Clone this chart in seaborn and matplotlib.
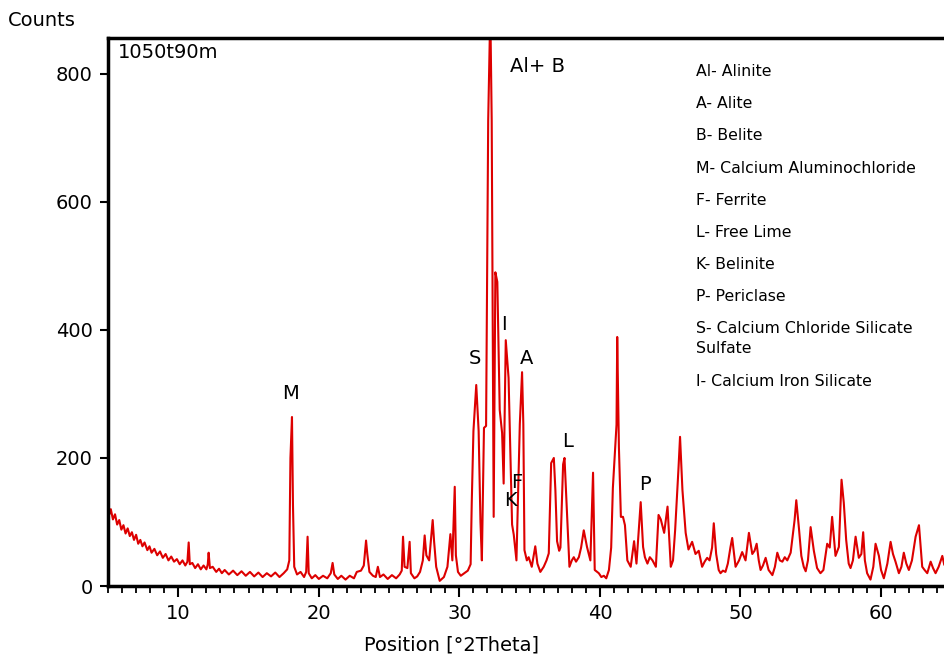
import pandas as pd
import matplotlib
matplotlib.use('Agg')
import matplotlib.pyplot as plt
import seaborn as sns
from matplotlib.ticker import MultipleLocator

# XRD pattern (position in deg 2theta, counts)
two_theta = [
    5.0, 5.1, 5.2, 5.35, 5.5, 5.65, 5.8, 5.95, 6.1, 6.25, 6.4, 6.55, 6.7, 6.85,
    7.0, 7.15, 7.3, 7.45, 7.6, 7.8, 7.95, 8.1, 8.3, 8.5, 8.7, 8.9, 9.1, 9.3,
    9.5, 9.7, 9.9, 10.1, 10.3, 10.5, 10.65, 10.74, 10.82, 11.0, 11.2, 11.4,
    11.6, 11.8, 12.0, 12.1, 12.16, 12.25, 12.45, 12.7, 12.9, 13.1, 13.3, 13.6,
    13.9, 14.2, 14.5, 14.8, 15.1, 15.4, 15.7, 16.0, 16.3, 16.6, 16.9, 17.2,
    17.5, 17.75, 17.9, 17.98, 18.09, 18.16, 18.25, 18.45, 18.7, 18.95, 19.1,
    19.2, 19.28, 19.5, 19.75, 20.0, 20.3, 20.6, 20.85, 20.98, 21.1, 21.35,
    21.6, 21.9, 22.2, 22.5, 22.7, 23.0, 23.2, 23.36, 23.45, 23.6, 23.85,
    24.05, 24.2, 24.35, 24.6, 24.9, 25.2, 25.5, 25.75, 25.9, 25.99, 26.1,
    26.3, 26.46, 26.55, 26.8, 27.0, 27.2, 27.4, 27.53, 27.65, 27.85, 28.1,
    28.2, 28.35, 28.6, 28.9, 29.15, 29.36, 29.5, 29.67, 29.75, 29.9, 30.1,
    30.35, 30.6, 30.8, 30.88, 31.0, 31.2, 31.37, 31.5, 31.6, 31.75, 31.9,
    32.05, 32.2, 32.3, 32.44, 32.56, 32.7, 32.87, 33.04, 33.15, 33.3, 33.5,
    33.63, 33.75, 33.87, 34.06, 34.3, 34.46, 34.55, 34.63, 34.8, 34.93, 35.15,
    35.4, 35.55, 35.76, 36.0, 36.2, 36.36, 36.53, 36.72, 36.83, 36.95, 37.1,
    37.19, 37.38, 37.48, 37.66, 37.83, 38.0, 38.14, 38.3, 38.5, 38.66, 38.85,
    39.08, 39.32, 39.51, 39.63, 39.92, 40.1, 40.28, 40.45, 40.64, 40.8, 40.92,
    41.18, 41.23, 41.35, 41.49, 41.64, 41.78, 41.95, 42.19, 42.43, 42.6, 42.9,
    43.07, 43.2, 43.38, 43.55, 43.74, 43.98, 44.17, 44.33, 44.57, 44.81, 45.04,
    45.2, 45.35, 45.59, 45.7, 45.87, 46.1, 46.3, 46.56, 46.8, 47.03, 47.27,
    47.45, 47.63, 47.8, 47.98, 48.1, 48.27, 48.45, 48.58, 48.75, 48.93, 49.1,
    49.29, 49.41, 49.65, 49.9, 50.12, 50.36, 50.6, 50.84, 51.0, 51.15, 51.3,
    51.43, 51.6, 51.79, 52.0, 52.27, 52.45, 52.62, 52.8, 52.98, 53.15, 53.33,
    53.57, 53.85, 53.97, 54.16, 54.33, 54.5, 54.64, 54.8, 54.99, 55.22, 55.45,
    55.69, 55.9, 56.17, 56.35, 56.52, 56.76, 57.0, 57.19, 57.35, 57.52, 57.7,
    57.83, 58.0, 58.19, 58.42, 58.6, 58.73, 58.85, 59.01, 59.25, 59.45, 59.61,
    59.85, 60.0, 60.2, 60.45, 60.68, 60.85, 61.03, 61.27, 61.45, 61.62, 61.8,
    61.98, 62.2, 62.46, 62.7, 62.93, 63.1, 63.29, 63.53, 63.7, 63.88, 64.1,
    64.36, 64.5,
]
counts = [
    122, 112, 120, 104, 112, 96, 103, 88, 95, 82, 90, 78, 84, 72,
    80, 66, 72, 62, 68, 56, 62, 52, 58, 48, 54, 44, 50, 40,
    46, 38, 42, 34, 40, 32, 38, 68, 34, 36, 28, 34,
    26, 32, 26, 34, 52, 28, 30, 22, 27, 20, 25, 18,
    24, 17, 23, 16, 22, 15, 21, 14, 20, 15, 21, 14,
    20, 26, 40, 200, 264, 127, 30, 18, 22, 14, 22,
    77, 20, 12, 17, 11, 16, 12, 20, 36, 18, 11,
    16, 10, 16, 12, 22, 24, 32, 71, 50, 22, 16,
    14, 30, 14, 18, 11, 17, 12, 18, 24, 77, 30,
    28, 69, 20, 12, 15, 22, 40, 79, 48, 40, 103,
    70, 30, 8, 14, 30, 81, 40, 155, 48, 22, 16,
    20, 24, 34, 130, 242, 314, 242, 100, 40, 247, 250,
    727, 900, 727, 108, 490, 475, 275, 239, 160, 384, 325,
    203, 96, 80, 40, 253, 334, 253, 56, 40, 45, 30,
    62, 35, 22, 30, 40, 51, 192, 200, 150, 70, 55,
    60, 190, 200, 114, 30, 40, 45, 38, 45, 60, 87,
    61, 40, 177, 25, 20, 14, 16, 12, 25, 60, 153,
    252, 389, 217, 108, 108, 95, 40, 30, 70, 35, 131,
    61, 45, 35, 45, 40, 30, 111, 104, 83, 124, 30,
    40, 87, 184, 233, 150, 83, 57, 69, 50, 55, 30,
    38, 44, 40, 60, 98, 50, 25, 20, 24, 22, 35,
    61, 75, 30, 40, 53, 40, 83, 50, 55, 66, 40,
    25, 32, 44, 25, 17, 30, 52, 40, 38, 45, 40,
    52, 103, 134, 90, 47, 30, 23, 40, 92, 55, 28,
    20, 25, 66, 60, 108, 47, 61, 166, 130, 72, 35,
    28, 40, 77, 44, 50, 84, 40, 20, 10, 30, 66,
    47, 25, 12, 35, 69, 50, 38, 20, 30, 52, 35,
    25, 40, 77, 95, 30, 25, 20, 38, 28, 20, 30,
    47, 33,
]

peak_labels = ['M', 'S', 'I', 'A', 'L', 'F', 'K', 'P']
peak_x = [17.97, 31.14, 33.2, 34.77, 37.69, 34.06, 33.63, 43.17]
peak_y = [301, 356, 408, 356, 225, 161, 133, 159]

phases = ['Al- Alinite', 'A- Alite', 'B- Belite', 'M- Calcium Aluminochloride',
          'F- Ferrite', 'L- Free Lime', 'K- Belinite', 'P- Periclase',
          'S- Calcium Chloride Silicate\nSulfate', 'I- Calcium Iron Silicate']

sns.set_style('ticks')
plt.rcParams['font.family'] = ['DejaVu Sans']
plt.rcParams['text.color'] = 'black'
plt.rcParams['xtick.color'] = 'black'
plt.rcParams['ytick.color'] = 'black'

W, H = 944, 660
fig = plt.figure(figsize=(W / 100, H / 100), dpi=100)
# axes runs off the right edge like the cropped original
ax = fig.add_axes([108 / W, 1 - 586 / H, 1 - 108 / W, 548 / H])

df = pd.DataFrame({'pos': two_theta, 'counts': counts})
sns.lineplot(data=df, x='pos', y='counts', color='#dd0000', linewidth=1.5,
             estimator=None, ax=ax)

ax.set_xlim(5, 64.48)
ax.set_ylim(0, 856)
ax.set_xlabel('')
ax.set_ylabel('')
ax.set_yticks([0, 200, 400, 600, 800])
ax.xaxis.set_major_locator(MultipleLocator(10))
ax.xaxis.set_minor_locator(MultipleLocator(1))
ax.tick_params(axis='both', which='major', direction='out', length=8, width=1.5,
               labelsize=14, pad=5, colors='black')
ax.tick_params(axis='x', which='minor', direction='out', length=5, width=1.3)
ax.tick_params(axis='y', which='major', length=6)
for side in ['left', 'bottom', 'top']:
    ax.spines[side].set_visible(True)
    ax.spines[side].set_linewidth(2.5)
    ax.spines[side].set_color('black')
ax.spines['right'].set_visible(False)

# peak labels
for lab, x, y in zip(peak_labels, peak_x, peak_y):
    ax.text(x, y, lab, fontsize=14, ha='center', va='center')
ax.text(33.63, 811, 'Al+ B', fontsize=14, ha='left', va='center')
ax.text(0.012, 0.974, '1050t90m', fontsize=14, ha='left', va='center',
        transform=ax.transAxes)

# phase key on the right (ypx = centre of first line, in picture pixels)
ypx = 72
for p in phases:
    nlines = p.count('\n') + 1
    yc = ypx + 10.5 * (nlines - 1)
    ax.text((696 - 108) / 836, (586 - yc) / 548, p, fontsize=11.3,
            ha='left', va='center', linespacing=1.35, transform=ax.transAxes)
    ypx += 32 + 21 * (nlines - 1)

fig.text(8 / W, 1 - 20 / H, 'Counts', fontsize=14, ha='left', va='center')
fig.text(452 / W, 1 - 645 / H, 'Position [°2Theta]', fontsize=14,
         ha='center', va='center')

fig.savefig('out.png', dpi=100)
